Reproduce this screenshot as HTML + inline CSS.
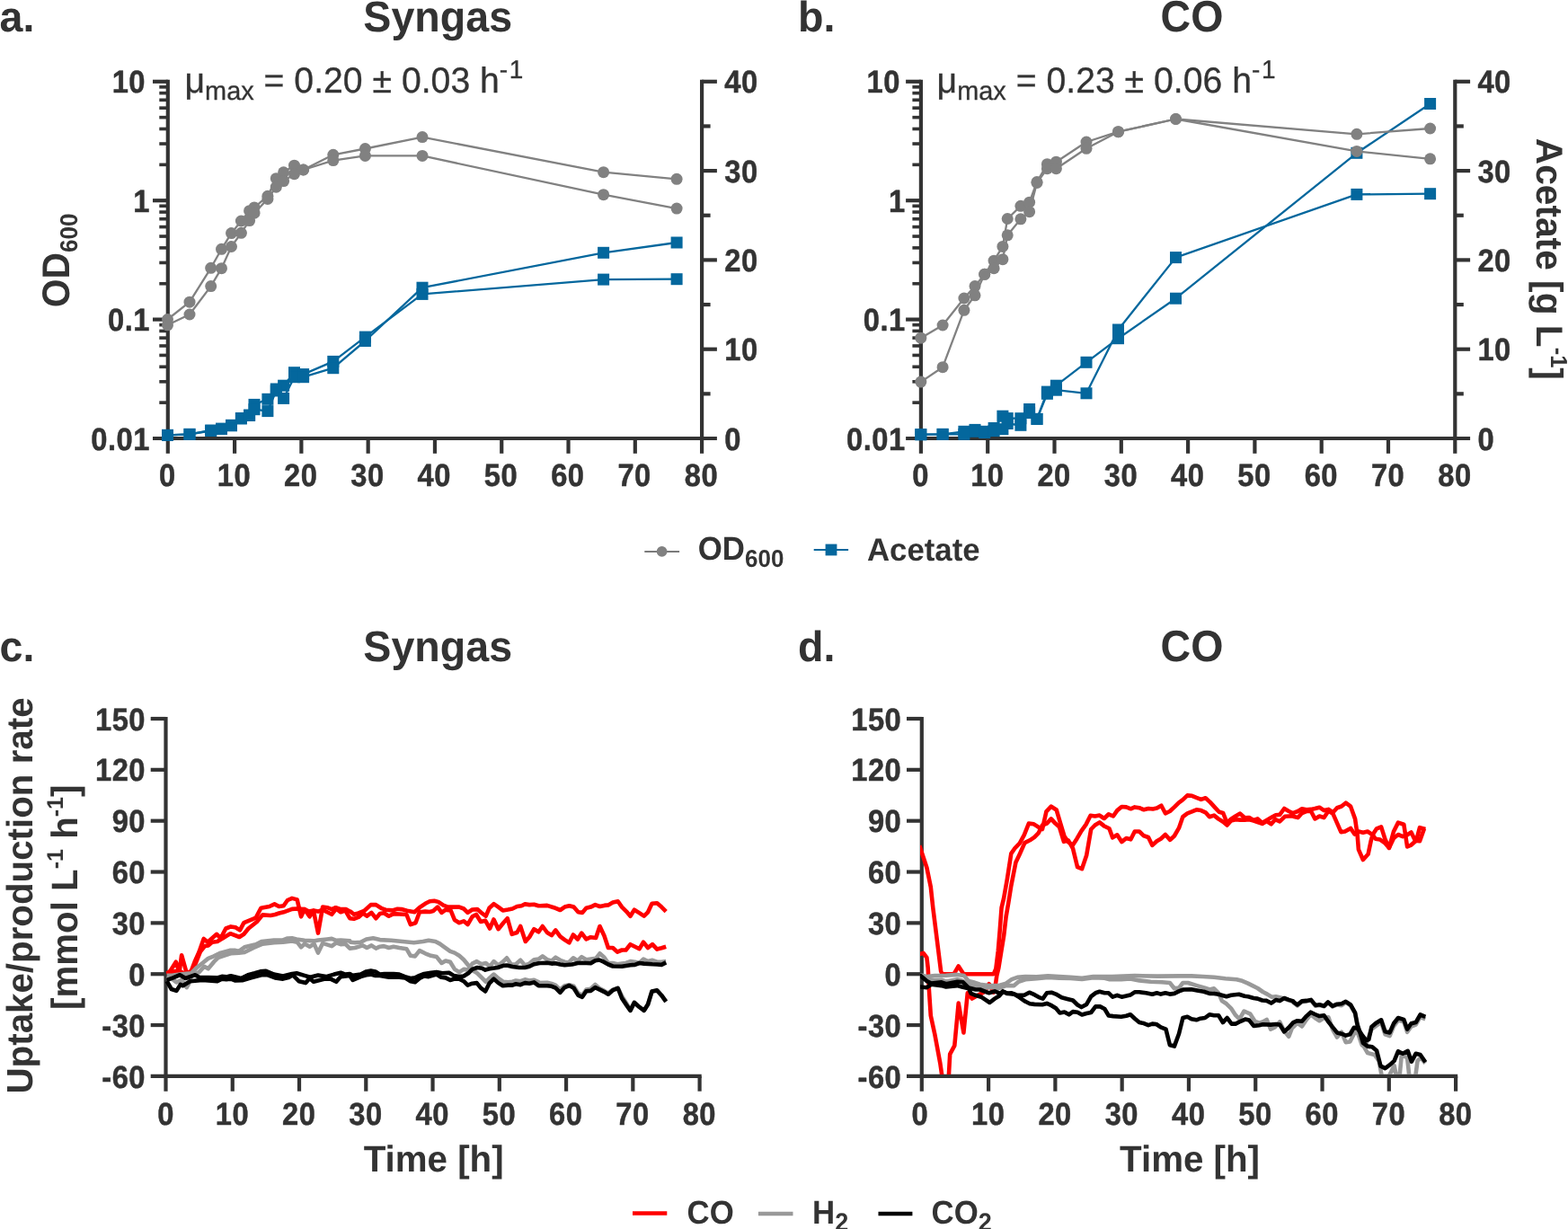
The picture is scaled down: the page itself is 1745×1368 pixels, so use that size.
<!DOCTYPE html>
<html lang="en">
<head>
<meta charset="utf-8">
<title>Syngas and CO fermentation</title>
<style>
html,body{margin:0;padding:0;background:#fff;}
body{width:1745px;height:1368px;overflow:hidden;font-family:"Liberation Sans", sans-serif;}
svg{display:block;position:absolute;left:0;top:0;}
text{white-space:pre;text-rendering:geometricPrecision;}
.tk{letter-spacing:0.5px;stroke:#333;stroke-width:0.45px;stroke-linejoin:round;}
.an{stroke:#333;stroke-width:0.3px;}
</style>
</head>
<body>
<svg width="1745" height="1368" viewBox="0 0 1745 1368" font-family='"Liberation Sans", sans-serif' font-weight="bold" fill="#333333">
<rect width="1745" height="1368" fill="#ffffff"/>
<g>
<line x1="186.8" y1="88.7" x2="186.8" y2="490.1" stroke="#333333" stroke-width="4.2"/>
<line x1="781.1" y1="88.7" x2="781.1" y2="490.1" stroke="#333333" stroke-width="4.2"/>
<line x1="170" y1="488" x2="797.9" y2="488" stroke="#333333" stroke-width="4.2"/>
<line x1="170" y1="90.8" x2="186.8" y2="90.8" stroke="#333333" stroke-width="4.2"/>
<text transform="translate(162 103.4) scale(1 1.075)" font-size="32.7" text-anchor="end" class="tk">10</text>
<line x1="177.3" y1="183.34" x2="186.8" y2="183.34" stroke="#333333" stroke-width="3.6"/>
<line x1="177.3" y1="160.03" x2="186.8" y2="160.03" stroke="#333333" stroke-width="3.6"/>
<line x1="177.3" y1="143.49" x2="186.8" y2="143.49" stroke="#333333" stroke-width="3.6"/>
<line x1="177.3" y1="130.66" x2="186.8" y2="130.66" stroke="#333333" stroke-width="3.6"/>
<line x1="177.3" y1="120.17" x2="186.8" y2="120.17" stroke="#333333" stroke-width="3.6"/>
<line x1="177.3" y1="111.31" x2="186.8" y2="111.31" stroke="#333333" stroke-width="3.6"/>
<line x1="177.3" y1="103.63" x2="186.8" y2="103.63" stroke="#333333" stroke-width="3.6"/>
<line x1="177.3" y1="96.86" x2="186.8" y2="96.86" stroke="#333333" stroke-width="3.6"/>
<line x1="170" y1="223.2" x2="186.8" y2="223.2" stroke="#333333" stroke-width="4.2"/>
<text transform="translate(166.9 235.8) scale(1 1.075)" font-size="32.7" text-anchor="end" class="tk">1</text>
<line x1="177.3" y1="315.74" x2="186.8" y2="315.74" stroke="#333333" stroke-width="3.6"/>
<line x1="177.3" y1="292.43" x2="186.8" y2="292.43" stroke="#333333" stroke-width="3.6"/>
<line x1="177.3" y1="275.89" x2="186.8" y2="275.89" stroke="#333333" stroke-width="3.6"/>
<line x1="177.3" y1="263.06" x2="186.8" y2="263.06" stroke="#333333" stroke-width="3.6"/>
<line x1="177.3" y1="252.57" x2="186.8" y2="252.57" stroke="#333333" stroke-width="3.6"/>
<line x1="177.3" y1="243.71" x2="186.8" y2="243.71" stroke="#333333" stroke-width="3.6"/>
<line x1="177.3" y1="236.03" x2="186.8" y2="236.03" stroke="#333333" stroke-width="3.6"/>
<line x1="177.3" y1="229.26" x2="186.8" y2="229.26" stroke="#333333" stroke-width="3.6"/>
<line x1="170" y1="355.6" x2="186.8" y2="355.6" stroke="#333333" stroke-width="4.2"/>
<text transform="translate(166.9 368.2) scale(1 1.075)" font-size="32.7" text-anchor="end" class="tk">0.1</text>
<line x1="177.3" y1="448.14" x2="186.8" y2="448.14" stroke="#333333" stroke-width="3.6"/>
<line x1="177.3" y1="424.83" x2="186.8" y2="424.83" stroke="#333333" stroke-width="3.6"/>
<line x1="177.3" y1="408.29" x2="186.8" y2="408.29" stroke="#333333" stroke-width="3.6"/>
<line x1="177.3" y1="395.46" x2="186.8" y2="395.46" stroke="#333333" stroke-width="3.6"/>
<line x1="177.3" y1="384.97" x2="186.8" y2="384.97" stroke="#333333" stroke-width="3.6"/>
<line x1="177.3" y1="376.11" x2="186.8" y2="376.11" stroke="#333333" stroke-width="3.6"/>
<line x1="177.3" y1="368.43" x2="186.8" y2="368.43" stroke="#333333" stroke-width="3.6"/>
<line x1="177.3" y1="361.66" x2="186.8" y2="361.66" stroke="#333333" stroke-width="3.6"/>
<text transform="translate(166.9 500.6) scale(1 1.075)" font-size="32.7" text-anchor="end" class="tk">0.01</text>
<text transform="translate(806.2 500.6) scale(1 1.075)" font-size="32.7" class="tk">0</text>
<line x1="781.1" y1="438.35" x2="790.6" y2="438.35" stroke="#333333" stroke-width="4.2"/>
<line x1="781.1" y1="388.7" x2="797.9" y2="388.7" stroke="#333333" stroke-width="4.2"/>
<text transform="translate(806.2 401.3) scale(1 1.075)" font-size="32.7" class="tk">10</text>
<line x1="781.1" y1="339.05" x2="790.6" y2="339.05" stroke="#333333" stroke-width="4.2"/>
<line x1="781.1" y1="289.4" x2="797.9" y2="289.4" stroke="#333333" stroke-width="4.2"/>
<text transform="translate(806.2 302) scale(1 1.075)" font-size="32.7" class="tk">20</text>
<line x1="781.1" y1="239.75" x2="790.6" y2="239.75" stroke="#333333" stroke-width="4.2"/>
<line x1="781.1" y1="190.1" x2="797.9" y2="190.1" stroke="#333333" stroke-width="4.2"/>
<text transform="translate(806.2 202.7) scale(1 1.075)" font-size="32.7" class="tk">30</text>
<line x1="781.1" y1="140.45" x2="790.6" y2="140.45" stroke="#333333" stroke-width="4.2"/>
<line x1="781.1" y1="90.8" x2="797.9" y2="90.8" stroke="#333333" stroke-width="4.2"/>
<text transform="translate(806.2 103.4) scale(1 1.075)" font-size="32.7" class="tk">40</text>
<line x1="186.8" y1="488" x2="186.8" y2="504.8" stroke="#333333" stroke-width="4.2"/>
<text transform="translate(186.3 541.2) scale(1 1.075)" font-size="32.7" text-anchor="middle" class="tk">0</text>
<line x1="261.09" y1="488" x2="261.09" y2="504.8" stroke="#333333" stroke-width="4.2"/>
<text transform="translate(260.39 541.2) scale(1 1.075)" font-size="32.7" text-anchor="middle" class="tk">10</text>
<line x1="335.38" y1="488" x2="335.38" y2="504.8" stroke="#333333" stroke-width="4.2"/>
<text transform="translate(334.68 541.2) scale(1 1.075)" font-size="32.7" text-anchor="middle" class="tk">20</text>
<line x1="409.66" y1="488" x2="409.66" y2="504.8" stroke="#333333" stroke-width="4.2"/>
<text transform="translate(408.96 541.2) scale(1 1.075)" font-size="32.7" text-anchor="middle" class="tk">30</text>
<line x1="483.95" y1="488" x2="483.95" y2="504.8" stroke="#333333" stroke-width="4.2"/>
<text transform="translate(483.25 541.2) scale(1 1.075)" font-size="32.7" text-anchor="middle" class="tk">40</text>
<line x1="558.24" y1="488" x2="558.24" y2="504.8" stroke="#333333" stroke-width="4.2"/>
<text transform="translate(557.54 541.2) scale(1 1.075)" font-size="32.7" text-anchor="middle" class="tk">50</text>
<line x1="632.53" y1="488" x2="632.53" y2="504.8" stroke="#333333" stroke-width="4.2"/>
<text transform="translate(631.83 541.2) scale(1 1.075)" font-size="32.7" text-anchor="middle" class="tk">60</text>
<line x1="706.81" y1="488" x2="706.81" y2="504.8" stroke="#333333" stroke-width="4.2"/>
<text transform="translate(706.11 541.2) scale(1 1.075)" font-size="32.7" text-anchor="middle" class="tk">70</text>
<line x1="781.1" y1="488" x2="781.1" y2="504.8" stroke="#333333" stroke-width="4.2"/>
<text transform="translate(780.4 541.2) scale(1 1.075)" font-size="32.7" text-anchor="middle" class="tk">80</text>
<text transform="translate(487.2 35.2) scale(1 1.03)" font-size="46.6" text-anchor="middle">Syngas</text>
<text transform="translate(-0.5 35.1) scale(1 1.02)" font-size="46.6">a.</text>
<text transform="translate(205.5 102.9) scale(1 1.02)" font-size="39.2" font-weight="normal" class="an">μ<tspan font-size="28.9" dy="7.6">max</tspan><tspan dy="-7.6"> = 0.20 ± 0.03 h</tspan><tspan font-size="28.0" dy="-15.8">-</tspan><tspan font-size="28" dx="1.6">1</tspan></text>
<polyline points="186.5,484.4 211,483.4 234.7,479 246.5,477.1 257.5,473.3 268.4,465.5 277.6,462 283,450.4 297.9,444.3 307.3,433 315.6,429.2 327.5,414.7 337.6,416.6 370.8,402.4 406.4,375.1 470,327.4 671.6,311.1 753.1,310.7" fill="none" stroke="#04679d" stroke-width="2.3" stroke-linejoin="round"/>
<polyline points="186.5,484.4 211,483.4 234.7,479.5 246.5,477.5 257.5,473.8 268.4,466 277.6,462.5 283,455.7 297.9,457.6 307.3,435 315.6,443.4 327.5,419.7 337.6,419.7 370.8,409.7 406.4,379.5 470,320.2 671.6,281.3 753.1,270" fill="none" stroke="#04679d" stroke-width="2.3" stroke-linejoin="round"/>
<rect x="180" y="477.9" width="13" height="13" fill="#04679d"/>
<rect x="204.5" y="476.9" width="13" height="13" fill="#04679d"/>
<rect x="228.2" y="472.5" width="13" height="13" fill="#04679d"/>
<rect x="240" y="470.6" width="13" height="13" fill="#04679d"/>
<rect x="251" y="466.8" width="13" height="13" fill="#04679d"/>
<rect x="261.9" y="459" width="13" height="13" fill="#04679d"/>
<rect x="271.1" y="455.5" width="13" height="13" fill="#04679d"/>
<rect x="276.5" y="443.9" width="13" height="13" fill="#04679d"/>
<rect x="291.4" y="437.8" width="13" height="13" fill="#04679d"/>
<rect x="300.8" y="426.5" width="13" height="13" fill="#04679d"/>
<rect x="309.1" y="422.7" width="13" height="13" fill="#04679d"/>
<rect x="321" y="408.2" width="13" height="13" fill="#04679d"/>
<rect x="331.1" y="410.1" width="13" height="13" fill="#04679d"/>
<rect x="364.3" y="395.9" width="13" height="13" fill="#04679d"/>
<rect x="399.9" y="368.6" width="13" height="13" fill="#04679d"/>
<rect x="463.5" y="320.9" width="13" height="13" fill="#04679d"/>
<rect x="665.1" y="304.6" width="13" height="13" fill="#04679d"/>
<rect x="746.6" y="304.2" width="13" height="13" fill="#04679d"/>
<rect x="180" y="477.9" width="13" height="13" fill="#04679d"/>
<rect x="204.5" y="476.9" width="13" height="13" fill="#04679d"/>
<rect x="228.2" y="473" width="13" height="13" fill="#04679d"/>
<rect x="240" y="471" width="13" height="13" fill="#04679d"/>
<rect x="251" y="467.3" width="13" height="13" fill="#04679d"/>
<rect x="261.9" y="459.5" width="13" height="13" fill="#04679d"/>
<rect x="271.1" y="456" width="13" height="13" fill="#04679d"/>
<rect x="276.5" y="449.2" width="13" height="13" fill="#04679d"/>
<rect x="291.4" y="451.1" width="13" height="13" fill="#04679d"/>
<rect x="300.8" y="428.5" width="13" height="13" fill="#04679d"/>
<rect x="309.1" y="436.9" width="13" height="13" fill="#04679d"/>
<rect x="321" y="413.2" width="13" height="13" fill="#04679d"/>
<rect x="331.1" y="413.2" width="13" height="13" fill="#04679d"/>
<rect x="364.3" y="403.2" width="13" height="13" fill="#04679d"/>
<rect x="399.9" y="373" width="13" height="13" fill="#04679d"/>
<rect x="463.5" y="313.7" width="13" height="13" fill="#04679d"/>
<rect x="665.1" y="274.8" width="13" height="13" fill="#04679d"/>
<rect x="746.6" y="263.5" width="13" height="13" fill="#04679d"/>
<polyline points="186.5,355.5 211,336.2 234.7,298.3 246.5,277.3 257.5,259.6 268.4,246 277.6,234.7 283,230.9 297.9,218.3 307.3,198.7 315.6,191.8 327.5,184.2 337.6,189 370.8,172.3 406.4,165.5 470,152.6 671.6,191.7 753.1,199.3" fill="none" stroke="#818181" stroke-width="2.3" stroke-linejoin="round"/>
<polyline points="186.5,361.8 211,350 234.7,318.6 246.5,298.7 257.5,274.5 268.4,259.3 277.6,245.6 283,237.2 297.9,221.4 307.3,208.2 315.6,201.6 327.5,193.7 337.6,189 370.8,178.6 406.4,173.4 470,173.4 671.6,216.7 753.1,232.1" fill="none" stroke="#818181" stroke-width="2.3" stroke-linejoin="round"/>
<circle cx="186.5" cy="355.5" r="6.5" fill="#818181"/>
<circle cx="211" cy="336.2" r="6.5" fill="#818181"/>
<circle cx="234.7" cy="298.3" r="6.5" fill="#818181"/>
<circle cx="246.5" cy="277.3" r="6.5" fill="#818181"/>
<circle cx="257.5" cy="259.6" r="6.5" fill="#818181"/>
<circle cx="268.4" cy="246" r="6.5" fill="#818181"/>
<circle cx="277.6" cy="234.7" r="6.5" fill="#818181"/>
<circle cx="283" cy="230.9" r="6.5" fill="#818181"/>
<circle cx="297.9" cy="218.3" r="6.5" fill="#818181"/>
<circle cx="307.3" cy="198.7" r="6.5" fill="#818181"/>
<circle cx="315.6" cy="191.8" r="6.5" fill="#818181"/>
<circle cx="327.5" cy="184.2" r="6.5" fill="#818181"/>
<circle cx="337.6" cy="189" r="6.5" fill="#818181"/>
<circle cx="370.8" cy="172.3" r="6.5" fill="#818181"/>
<circle cx="406.4" cy="165.5" r="6.5" fill="#818181"/>
<circle cx="470" cy="152.6" r="6.5" fill="#818181"/>
<circle cx="671.6" cy="191.7" r="6.5" fill="#818181"/>
<circle cx="753.1" cy="199.3" r="6.5" fill="#818181"/>
<circle cx="186.5" cy="361.8" r="6.5" fill="#818181"/>
<circle cx="211" cy="350" r="6.5" fill="#818181"/>
<circle cx="234.7" cy="318.6" r="6.5" fill="#818181"/>
<circle cx="246.5" cy="298.7" r="6.5" fill="#818181"/>
<circle cx="257.5" cy="274.5" r="6.5" fill="#818181"/>
<circle cx="268.4" cy="259.3" r="6.5" fill="#818181"/>
<circle cx="277.6" cy="245.6" r="6.5" fill="#818181"/>
<circle cx="283" cy="237.2" r="6.5" fill="#818181"/>
<circle cx="297.9" cy="221.4" r="6.5" fill="#818181"/>
<circle cx="307.3" cy="208.2" r="6.5" fill="#818181"/>
<circle cx="315.6" cy="201.6" r="6.5" fill="#818181"/>
<circle cx="327.5" cy="193.7" r="6.5" fill="#818181"/>
<circle cx="337.6" cy="189" r="6.5" fill="#818181"/>
<circle cx="370.8" cy="178.6" r="6.5" fill="#818181"/>
<circle cx="406.4" cy="173.4" r="6.5" fill="#818181"/>
<circle cx="470" cy="173.4" r="6.5" fill="#818181"/>
<circle cx="671.6" cy="216.7" r="6.5" fill="#818181"/>
<circle cx="753.1" cy="232.1" r="6.5" fill="#818181"/>
</g>
<g>
<line x1="1024.9" y1="88.7" x2="1024.9" y2="490.1" stroke="#333333" stroke-width="4.2"/>
<line x1="1619.3" y1="88.7" x2="1619.3" y2="490.1" stroke="#333333" stroke-width="4.2"/>
<line x1="1008.1" y1="488" x2="1636.1" y2="488" stroke="#333333" stroke-width="4.2"/>
<line x1="1008.1" y1="90.8" x2="1024.9" y2="90.8" stroke="#333333" stroke-width="4.2"/>
<text transform="translate(1001.9 103.4) scale(1 1.075)" font-size="32.7" text-anchor="end" class="tk">10</text>
<line x1="1015.4" y1="183.34" x2="1024.9" y2="183.34" stroke="#333333" stroke-width="3.6"/>
<line x1="1015.4" y1="160.03" x2="1024.9" y2="160.03" stroke="#333333" stroke-width="3.6"/>
<line x1="1015.4" y1="143.49" x2="1024.9" y2="143.49" stroke="#333333" stroke-width="3.6"/>
<line x1="1015.4" y1="130.66" x2="1024.9" y2="130.66" stroke="#333333" stroke-width="3.6"/>
<line x1="1015.4" y1="120.17" x2="1024.9" y2="120.17" stroke="#333333" stroke-width="3.6"/>
<line x1="1015.4" y1="111.31" x2="1024.9" y2="111.31" stroke="#333333" stroke-width="3.6"/>
<line x1="1015.4" y1="103.63" x2="1024.9" y2="103.63" stroke="#333333" stroke-width="3.6"/>
<line x1="1015.4" y1="96.86" x2="1024.9" y2="96.86" stroke="#333333" stroke-width="3.6"/>
<line x1="1008.1" y1="223.2" x2="1024.9" y2="223.2" stroke="#333333" stroke-width="4.2"/>
<text transform="translate(1007.7 235.8) scale(1 1.075)" font-size="32.7" text-anchor="end" class="tk">1</text>
<line x1="1015.4" y1="315.74" x2="1024.9" y2="315.74" stroke="#333333" stroke-width="3.6"/>
<line x1="1015.4" y1="292.43" x2="1024.9" y2="292.43" stroke="#333333" stroke-width="3.6"/>
<line x1="1015.4" y1="275.89" x2="1024.9" y2="275.89" stroke="#333333" stroke-width="3.6"/>
<line x1="1015.4" y1="263.06" x2="1024.9" y2="263.06" stroke="#333333" stroke-width="3.6"/>
<line x1="1015.4" y1="252.57" x2="1024.9" y2="252.57" stroke="#333333" stroke-width="3.6"/>
<line x1="1015.4" y1="243.71" x2="1024.9" y2="243.71" stroke="#333333" stroke-width="3.6"/>
<line x1="1015.4" y1="236.03" x2="1024.9" y2="236.03" stroke="#333333" stroke-width="3.6"/>
<line x1="1015.4" y1="229.26" x2="1024.9" y2="229.26" stroke="#333333" stroke-width="3.6"/>
<line x1="1008.1" y1="355.6" x2="1024.9" y2="355.6" stroke="#333333" stroke-width="4.2"/>
<text transform="translate(1007.7 368.2) scale(1 1.075)" font-size="32.7" text-anchor="end" class="tk">0.1</text>
<line x1="1015.4" y1="448.14" x2="1024.9" y2="448.14" stroke="#333333" stroke-width="3.6"/>
<line x1="1015.4" y1="424.83" x2="1024.9" y2="424.83" stroke="#333333" stroke-width="3.6"/>
<line x1="1015.4" y1="408.29" x2="1024.9" y2="408.29" stroke="#333333" stroke-width="3.6"/>
<line x1="1015.4" y1="395.46" x2="1024.9" y2="395.46" stroke="#333333" stroke-width="3.6"/>
<line x1="1015.4" y1="384.97" x2="1024.9" y2="384.97" stroke="#333333" stroke-width="3.6"/>
<line x1="1015.4" y1="376.11" x2="1024.9" y2="376.11" stroke="#333333" stroke-width="3.6"/>
<line x1="1015.4" y1="368.43" x2="1024.9" y2="368.43" stroke="#333333" stroke-width="3.6"/>
<line x1="1015.4" y1="361.66" x2="1024.9" y2="361.66" stroke="#333333" stroke-width="3.6"/>
<text transform="translate(1007.7 500.6) scale(1 1.075)" font-size="32.7" text-anchor="end" class="tk">0.01</text>
<text transform="translate(1644.4 500.6) scale(1 1.075)" font-size="32.7" class="tk">0</text>
<line x1="1619.3" y1="438.35" x2="1628.8" y2="438.35" stroke="#333333" stroke-width="4.2"/>
<line x1="1619.3" y1="388.7" x2="1636.1" y2="388.7" stroke="#333333" stroke-width="4.2"/>
<text transform="translate(1644.4 401.3) scale(1 1.075)" font-size="32.7" class="tk">10</text>
<line x1="1619.3" y1="339.05" x2="1628.8" y2="339.05" stroke="#333333" stroke-width="4.2"/>
<line x1="1619.3" y1="289.4" x2="1636.1" y2="289.4" stroke="#333333" stroke-width="4.2"/>
<text transform="translate(1644.4 302) scale(1 1.075)" font-size="32.7" class="tk">20</text>
<line x1="1619.3" y1="239.75" x2="1628.8" y2="239.75" stroke="#333333" stroke-width="4.2"/>
<line x1="1619.3" y1="190.1" x2="1636.1" y2="190.1" stroke="#333333" stroke-width="4.2"/>
<text transform="translate(1644.4 202.7) scale(1 1.075)" font-size="32.7" class="tk">30</text>
<line x1="1619.3" y1="140.45" x2="1628.8" y2="140.45" stroke="#333333" stroke-width="4.2"/>
<line x1="1619.3" y1="90.8" x2="1636.1" y2="90.8" stroke="#333333" stroke-width="4.2"/>
<text transform="translate(1644.4 103.4) scale(1 1.075)" font-size="32.7" class="tk">40</text>
<line x1="1024.9" y1="488" x2="1024.9" y2="504.8" stroke="#333333" stroke-width="4.2"/>
<text transform="translate(1024.7 541.2) scale(1 1.075)" font-size="32.7" text-anchor="middle" class="tk">0</text>
<line x1="1099.2" y1="488" x2="1099.2" y2="504.8" stroke="#333333" stroke-width="4.2"/>
<text transform="translate(1098.8 541.2) scale(1 1.075)" font-size="32.7" text-anchor="middle" class="tk">10</text>
<line x1="1173.5" y1="488" x2="1173.5" y2="504.8" stroke="#333333" stroke-width="4.2"/>
<text transform="translate(1173.1 541.2) scale(1 1.075)" font-size="32.7" text-anchor="middle" class="tk">20</text>
<line x1="1247.8" y1="488" x2="1247.8" y2="504.8" stroke="#333333" stroke-width="4.2"/>
<text transform="translate(1247.4 541.2) scale(1 1.075)" font-size="32.7" text-anchor="middle" class="tk">30</text>
<line x1="1322.1" y1="488" x2="1322.1" y2="504.8" stroke="#333333" stroke-width="4.2"/>
<text transform="translate(1321.7 541.2) scale(1 1.075)" font-size="32.7" text-anchor="middle" class="tk">40</text>
<line x1="1396.4" y1="488" x2="1396.4" y2="504.8" stroke="#333333" stroke-width="4.2"/>
<text transform="translate(1396 541.2) scale(1 1.075)" font-size="32.7" text-anchor="middle" class="tk">50</text>
<line x1="1470.7" y1="488" x2="1470.7" y2="504.8" stroke="#333333" stroke-width="4.2"/>
<text transform="translate(1470.3 541.2) scale(1 1.075)" font-size="32.7" text-anchor="middle" class="tk">60</text>
<line x1="1545" y1="488" x2="1545" y2="504.8" stroke="#333333" stroke-width="4.2"/>
<text transform="translate(1544.6 541.2) scale(1 1.075)" font-size="32.7" text-anchor="middle" class="tk">70</text>
<line x1="1619.3" y1="488" x2="1619.3" y2="504.8" stroke="#333333" stroke-width="4.2"/>
<text transform="translate(1618.9 541.2) scale(1 1.075)" font-size="32.7" text-anchor="middle" class="tk">80</text>
<text transform="translate(1326.5 35.2) scale(1 1.05)" font-size="46.6" text-anchor="middle">CO</text>
<text transform="translate(888 35.1) scale(1 1.02)" font-size="46.6">b.</text>
<text transform="translate(1042.6 102.9) scale(1 1.02)" font-size="39.2" font-weight="normal" class="an">μ<tspan font-size="28.9" dy="7.6">max</tspan><tspan dy="-7.6"> = 0.23 ± 0.06 h</tspan><tspan font-size="28.0" dy="-15.8">-</tspan><tspan font-size="28" dx="1.6">1</tspan></text>
<polyline points="1024.8,483.7 1049.1,483.4 1072.9,480.3 1085,478.4 1095.7,480.3 1106.1,476.5 1115.9,463.2 1121.2,465.6 1135.9,465.7 1145.6,455.5 1154,466.4 1165.4,436.1 1175.4,429.2 1209,403.3 1244.5,376.7 1308.5,332.2 1509.9,170.3 1591.6,115.5" fill="none" stroke="#04679d" stroke-width="2.3" stroke-linejoin="round"/>
<polyline points="1024.8,483.7 1049.1,483.4 1072.9,483.4 1085,480.3 1095.7,481.5 1106.1,479.6 1115.9,477.7 1121.2,471.5 1135.9,473.3 1145.6,459.6 1154,466.4 1165.4,438.3 1175.4,434.2 1209,437.8 1244.5,367 1308.5,286.6 1509.9,216.4 1591.6,215.7" fill="none" stroke="#04679d" stroke-width="2.3" stroke-linejoin="round"/>
<rect x="1018.3" y="477.2" width="13" height="13" fill="#04679d"/>
<rect x="1042.6" y="476.9" width="13" height="13" fill="#04679d"/>
<rect x="1066.4" y="473.8" width="13" height="13" fill="#04679d"/>
<rect x="1078.5" y="471.9" width="13" height="13" fill="#04679d"/>
<rect x="1089.2" y="473.8" width="13" height="13" fill="#04679d"/>
<rect x="1099.6" y="470" width="13" height="13" fill="#04679d"/>
<rect x="1109.4" y="456.7" width="13" height="13" fill="#04679d"/>
<rect x="1114.7" y="459.1" width="13" height="13" fill="#04679d"/>
<rect x="1129.4" y="459.2" width="13" height="13" fill="#04679d"/>
<rect x="1139.1" y="449" width="13" height="13" fill="#04679d"/>
<rect x="1147.5" y="459.9" width="13" height="13" fill="#04679d"/>
<rect x="1158.9" y="429.6" width="13" height="13" fill="#04679d"/>
<rect x="1168.9" y="422.7" width="13" height="13" fill="#04679d"/>
<rect x="1202.5" y="396.8" width="13" height="13" fill="#04679d"/>
<rect x="1238" y="370.2" width="13" height="13" fill="#04679d"/>
<rect x="1302" y="325.7" width="13" height="13" fill="#04679d"/>
<rect x="1503.4" y="163.8" width="13" height="13" fill="#04679d"/>
<rect x="1585.1" y="109" width="13" height="13" fill="#04679d"/>
<rect x="1018.3" y="477.2" width="13" height="13" fill="#04679d"/>
<rect x="1042.6" y="476.9" width="13" height="13" fill="#04679d"/>
<rect x="1066.4" y="476.9" width="13" height="13" fill="#04679d"/>
<rect x="1078.5" y="473.8" width="13" height="13" fill="#04679d"/>
<rect x="1089.2" y="475" width="13" height="13" fill="#04679d"/>
<rect x="1099.6" y="473.1" width="13" height="13" fill="#04679d"/>
<rect x="1109.4" y="471.2" width="13" height="13" fill="#04679d"/>
<rect x="1114.7" y="465" width="13" height="13" fill="#04679d"/>
<rect x="1129.4" y="466.8" width="13" height="13" fill="#04679d"/>
<rect x="1139.1" y="453.1" width="13" height="13" fill="#04679d"/>
<rect x="1147.5" y="459.9" width="13" height="13" fill="#04679d"/>
<rect x="1158.9" y="431.8" width="13" height="13" fill="#04679d"/>
<rect x="1168.9" y="427.7" width="13" height="13" fill="#04679d"/>
<rect x="1202.5" y="431.3" width="13" height="13" fill="#04679d"/>
<rect x="1238" y="360.5" width="13" height="13" fill="#04679d"/>
<rect x="1302" y="280.1" width="13" height="13" fill="#04679d"/>
<rect x="1503.4" y="209.9" width="13" height="13" fill="#04679d"/>
<rect x="1585.1" y="209.2" width="13" height="13" fill="#04679d"/>
<polyline points="1024.8,376.2 1049.1,362 1072.9,332 1085,318.6 1095.7,305.3 1106.1,290.2 1115.9,274.4 1121.2,243.5 1135.9,229.3 1145.6,225.2 1154,202.5 1165.4,182.7 1175.4,180.2 1209,158 1244.5,146.7 1308.5,132.5 1509.9,149.3 1591.6,143" fill="none" stroke="#818181" stroke-width="2.3" stroke-linejoin="round"/>
<polyline points="1024.8,425.1 1049.1,408.7 1072.9,345.3 1085,328.8 1095.7,305.3 1106.1,298.7 1115.9,288.7 1121.2,261.8 1135.9,243.8 1145.6,235.7 1154,203.5 1165.4,187.7 1175.4,187.7 1209,165.3 1244.5,146.7 1308.5,132.5 1509.9,168.4 1591.6,176.8" fill="none" stroke="#818181" stroke-width="2.3" stroke-linejoin="round"/>
<circle cx="1024.8" cy="376.2" r="6.5" fill="#818181"/>
<circle cx="1049.1" cy="362" r="6.5" fill="#818181"/>
<circle cx="1072.9" cy="332" r="6.5" fill="#818181"/>
<circle cx="1085" cy="318.6" r="6.5" fill="#818181"/>
<circle cx="1095.7" cy="305.3" r="6.5" fill="#818181"/>
<circle cx="1106.1" cy="290.2" r="6.5" fill="#818181"/>
<circle cx="1115.9" cy="274.4" r="6.5" fill="#818181"/>
<circle cx="1121.2" cy="243.5" r="6.5" fill="#818181"/>
<circle cx="1135.9" cy="229.3" r="6.5" fill="#818181"/>
<circle cx="1145.6" cy="225.2" r="6.5" fill="#818181"/>
<circle cx="1154" cy="202.5" r="6.5" fill="#818181"/>
<circle cx="1165.4" cy="182.7" r="6.5" fill="#818181"/>
<circle cx="1175.4" cy="180.2" r="6.5" fill="#818181"/>
<circle cx="1209" cy="158" r="6.5" fill="#818181"/>
<circle cx="1244.5" cy="146.7" r="6.5" fill="#818181"/>
<circle cx="1308.5" cy="132.5" r="6.5" fill="#818181"/>
<circle cx="1509.9" cy="149.3" r="6.5" fill="#818181"/>
<circle cx="1591.6" cy="143" r="6.5" fill="#818181"/>
<circle cx="1024.8" cy="425.1" r="6.5" fill="#818181"/>
<circle cx="1049.1" cy="408.7" r="6.5" fill="#818181"/>
<circle cx="1072.9" cy="345.3" r="6.5" fill="#818181"/>
<circle cx="1085" cy="328.8" r="6.5" fill="#818181"/>
<circle cx="1095.7" cy="305.3" r="6.5" fill="#818181"/>
<circle cx="1106.1" cy="298.7" r="6.5" fill="#818181"/>
<circle cx="1115.9" cy="288.7" r="6.5" fill="#818181"/>
<circle cx="1121.2" cy="261.8" r="6.5" fill="#818181"/>
<circle cx="1135.9" cy="243.8" r="6.5" fill="#818181"/>
<circle cx="1145.6" cy="235.7" r="6.5" fill="#818181"/>
<circle cx="1154" cy="203.5" r="6.5" fill="#818181"/>
<circle cx="1165.4" cy="187.7" r="6.5" fill="#818181"/>
<circle cx="1175.4" cy="187.7" r="6.5" fill="#818181"/>
<circle cx="1209" cy="165.3" r="6.5" fill="#818181"/>
<circle cx="1244.5" cy="146.7" r="6.5" fill="#818181"/>
<circle cx="1308.5" cy="132.5" r="6.5" fill="#818181"/>
<circle cx="1509.9" cy="168.4" r="6.5" fill="#818181"/>
<circle cx="1591.6" cy="176.8" r="6.5" fill="#818181"/>
</g>
<text transform="translate(77.4 342.3) rotate(-90) scale(1 1.05)" font-size="40.9">OD<tspan font-size="26" dy="8.5">600</tspan></text>
<text transform="translate(1709.7 153.8) rotate(90) scale(1 1.02)" font-size="40.7">Acetate [g L<tspan font-size="25.5" dy="-16">-1</tspan><tspan dy="16">]</tspan></text>
<line x1="717.3" y1="614" x2="756.1" y2="614" stroke="#7a7a7a" stroke-width="2.1"/>
<circle cx="736.6" cy="613.9" r="5.9" fill="#818181"/>
<text transform="translate(776.8 622.8) scale(1 1.05)" font-size="34.8">OD<tspan font-size="26" dy="7.8">600</tspan></text>
<line x1="905.7" y1="612" x2="944.1" y2="612" stroke="#04679d" stroke-width="2.1"/>
<rect x="918.6" y="605.6" width="12.8" height="12.8" fill="#04679d"/>
<text transform="translate(964.9 624) scale(1 1.02)" font-size="34.8">Acetate</text>
<g>
<line x1="184.5" y1="797.9" x2="184.5" y2="1214.7" stroke="#333333" stroke-width="4.2"/>
<line x1="167.7" y1="1197.9" x2="780.7" y2="1197.9" stroke="#333333" stroke-width="4.2"/>
<line x1="167.7" y1="800" x2="184.5" y2="800" stroke="#333333" stroke-width="4.2"/>
<text transform="translate(162 812.6) scale(1 1.075)" font-size="32.7" text-anchor="end" class="tk">150</text>
<line x1="167.7" y1="856.84" x2="184.5" y2="856.84" stroke="#333333" stroke-width="4.2"/>
<text transform="translate(162 869.44) scale(1 1.075)" font-size="32.7" text-anchor="end" class="tk">120</text>
<line x1="167.7" y1="913.69" x2="184.5" y2="913.69" stroke="#333333" stroke-width="4.2"/>
<text transform="translate(162 926.29) scale(1 1.075)" font-size="32.7" text-anchor="end" class="tk">90</text>
<line x1="167.7" y1="970.53" x2="184.5" y2="970.53" stroke="#333333" stroke-width="4.2"/>
<text transform="translate(162 983.13) scale(1 1.075)" font-size="32.7" text-anchor="end" class="tk">60</text>
<line x1="167.7" y1="1027.37" x2="184.5" y2="1027.37" stroke="#333333" stroke-width="4.2"/>
<text transform="translate(162 1039.97) scale(1 1.075)" font-size="32.7" text-anchor="end" class="tk">30</text>
<line x1="167.7" y1="1084.21" x2="184.5" y2="1084.21" stroke="#333333" stroke-width="4.2"/>
<text transform="translate(162 1096.81) scale(1 1.075)" font-size="32.7" text-anchor="end" class="tk">0</text>
<line x1="167.7" y1="1141.06" x2="184.5" y2="1141.06" stroke="#333333" stroke-width="4.2"/>
<text transform="translate(162 1153.66) scale(1 1.075)" font-size="32.7" text-anchor="end" class="tk">-30</text>
<text transform="translate(162 1210.5) scale(1 1.075)" font-size="32.7" text-anchor="end" class="tk">-60</text>
<text transform="translate(184.5 1252.2) scale(1 1.075)" font-size="32.7" text-anchor="middle" class="tk">0</text>
<line x1="258.76" y1="1197.9" x2="258.76" y2="1214.7" stroke="#333333" stroke-width="4.2"/>
<text transform="translate(258.46 1252.2) scale(1 1.075)" font-size="32.7" text-anchor="middle" class="tk">10</text>
<line x1="333.02" y1="1197.9" x2="333.02" y2="1214.7" stroke="#333333" stroke-width="4.2"/>
<text transform="translate(332.72 1252.2) scale(1 1.075)" font-size="32.7" text-anchor="middle" class="tk">20</text>
<line x1="407.29" y1="1197.9" x2="407.29" y2="1214.7" stroke="#333333" stroke-width="4.2"/>
<text transform="translate(406.99 1252.2) scale(1 1.075)" font-size="32.7" text-anchor="middle" class="tk">30</text>
<line x1="481.55" y1="1197.9" x2="481.55" y2="1214.7" stroke="#333333" stroke-width="4.2"/>
<text transform="translate(481.25 1252.2) scale(1 1.075)" font-size="32.7" text-anchor="middle" class="tk">40</text>
<line x1="555.81" y1="1197.9" x2="555.81" y2="1214.7" stroke="#333333" stroke-width="4.2"/>
<text transform="translate(555.51 1252.2) scale(1 1.075)" font-size="32.7" text-anchor="middle" class="tk">50</text>
<line x1="630.08" y1="1197.9" x2="630.08" y2="1214.7" stroke="#333333" stroke-width="4.2"/>
<text transform="translate(629.78 1252.2) scale(1 1.075)" font-size="32.7" text-anchor="middle" class="tk">60</text>
<line x1="704.34" y1="1197.9" x2="704.34" y2="1214.7" stroke="#333333" stroke-width="4.2"/>
<text transform="translate(704.04 1252.2) scale(1 1.075)" font-size="32.7" text-anchor="middle" class="tk">70</text>
<line x1="778.6" y1="1197.9" x2="778.6" y2="1214.7" stroke="#333333" stroke-width="4.2"/>
<text transform="translate(778.3 1252.2) scale(1 1.075)" font-size="32.7" text-anchor="middle" class="tk">80</text>
<text transform="translate(487.2 736.1) scale(1 1.03)" font-size="46.6" text-anchor="middle">Syngas</text>
<text transform="translate(-0.5 736.3) scale(1 1.02)" font-size="46.6">c.</text>
<text transform="translate(482.65 1304.3) scale(1 1.02)" font-size="40.3" text-anchor="middle">Time [h]</text>
</g>
<clipPath id="clipc"><rect x="182.7" y="780" width="604.1" height="415.9"/></clipPath>
<g clip-path="url(#clipc)" fill="none" stroke-width="4.6" stroke-linejoin="round">
<path d="M185.7 1083.3L189.5 1080.8L195.8 1070.7L199.6 1082.1L202.1 1063.2L207.8 1083.3L212.8 1080.8L216.6 1070.7L221.6 1059.4L226.7 1044.9L231.1 1048.7L241.2 1039.8L245.6 1044.3L251.3 1033.5L256.9 1031.4L262 1032.3L267 1035.4L271.4 1027.2L284.7 1021.6L290.4 1010.8L299.8 1009L305.5 1006.4L310.5 1009L315.6 1008.3L320 1002L325 999.9L330.7 1001.4L335.1 1020.3L338.9 1012.1L344.6 1020.3L349 1014L354 1038.6L359.1 1009.6L364.1 1010.2L369.2 1012.1L373.6 1010.2L379.2 1012.1L384.9 1012.1L389.3 1014.6L390 1014.6L393.8 1017.8L398.9 1016.5L405.2 1014L412.7 1007.1L418.4 1007.1L424.1 1010.8L429.1 1012.7L436.7 1013.4L442.4 1011.7L446.8 1012.1L453.1 1013.7L461.3 1015.3L466.9 1010.2L473.3 1005.8L478.3 1003.3L483.3 1002.7L487.8 1003.9L493.4 1007.7L498.5 1009.6L504.8 1009.6L511.1 1009.6L516.1 1011.5L520.5 1015.9L525.6 1012.5L531.2 1012.1L536.3 1016.5L540.7 1019.7L544.5 1010.8L549.5 1006.2L554.6 1009.6L559.6 1013.4L565.3 1012.5L570.3 1011.5L575.4 1009L580.4 1008.3L584.2 1006.4L589.2 1007.1L594.3 1006.7L599.3 1008.3L601.3 1008.3L608.9 1007.9L616.4 1010.2L623.4 1013L628.4 1009.6L633.5 1008.3L638.5 1009.6L643.5 1015.3L648 1015.9L652.4 1010.8L657.4 1009.6L662.4 1007.1L667.5 1009L672.5 1007.9L676.9 1007.4L682 1004.5L687.7 1003.3L692.1 1009.6L697.1 1014.6L701.5 1019.7L705.9 1012.7L711 1015.9L716.7 1019.7L721.1 1015.3L725.5 1005.8L731.2 1005.2L736.2 1009.6L741.2 1014.6" stroke="#ff0000"/>
<path d="M185.7 1084.6L191.4 1082.1L196.4 1080.8L202.1 1082.1L207.8 1084.6L212.8 1082.1L217.9 1072L222.9 1059.4L228 1053.1L231.7 1052.4L236.1 1048.7L241.8 1048L248.1 1044.3L256.3 1039.2L266.4 1043L271.4 1039.8L276.5 1033.5L285.9 1026L292.2 1018.4L301.1 1019L306.1 1018L310.5 1016.5L315.6 1015.3L325 1011.9L330.7 1011.5L338.9 1012.1L343.9 1014.6L349 1013.4L354 1014.6L359.1 1012.7L369.2 1017.8L374.2 1011.5L379.2 1015.3L384.3 1013.4L389.3 1022.2L393.8 1022.8L398.9 1020.9L403.9 1016.5L408.3 1019.7L413.4 1015.9L418.4 1022.2L422.8 1017.1L427.2 1016.3L432.7 1019.7L438 1017.1L444.3 1017.5L452.4 1018L456.9 1029.1L462.5 1027.2L466.9 1015.3L473.3 1014.6L478.3 1015L482.1 1014L487.1 1009.6L491.5 1015.9L495.9 1012.7L501.6 1013.4L506 1024.1L511.1 1027.2L516.1 1025.3L520.5 1029.1L525.6 1020.3L530 1018L535 1026L540.1 1024.7L545.1 1033.5L549.5 1023.5L554.6 1034.2L560.2 1027.2L564.7 1022.2L569.7 1039.8L575.4 1038L579.2 1031L584.8 1048L589.2 1043L594.3 1034.2L599.3 1037.3L603.8 1031L608.9 1038L613.9 1041.1L618.3 1035.4L623.4 1042.4L628.4 1046.1L633.5 1049.3L637.9 1040.5L642.9 1045.5L647.3 1038.6L652.4 1045.3L657.4 1043.2L663.1 1044L667.5 1031L672.5 1041.7L676.9 1055L682 1055L687 1059.6L692.1 1057.5L696.5 1057.5L701.5 1051.2L706.6 1053.7L711.6 1056.2L716 1048.7L721.1 1055L726.1 1051.2L731.2 1056.6L736.2 1055.3L741.2 1053.7" stroke="#ff0000"/>
<path d="M185.7 1085.9L191.4 1085.9L200.2 1084.6L212.8 1083.3L219.1 1077L225.4 1072L231.7 1066.9L238 1064.4L245.6 1060.6L255.7 1057.9L262 1057.9L265.8 1058.8L272.1 1054.3L284.7 1051.2L291 1048L304.9 1046.5L314.9 1046.5L320 1044.5L325 1044.3L330.1 1045.5L338.9 1046.8L349 1047.4L354 1046.5L364.1 1045.5L369.2 1044.9L374.2 1046.8L379.2 1046.5L389.3 1047.4L390 1048.7L395.1 1049.3L401.4 1048.7L407.7 1045.5L415.3 1044.3L422.8 1046.1L435.4 1046.8L448 1048L460.6 1049.3L470.7 1048L477 1046.8L484.6 1048L489.6 1050.6L494.7 1054.3L501 1058.8L506 1060.6L511.1 1063.8L516.1 1068.2L521.2 1074.5L526.2 1080.2L531.2 1083.3L536.3 1088.4L540.7 1092.8L545.1 1088.4L549.5 1084.6L554.6 1089L560.2 1092.8L565.3 1093.2L570.3 1092.8L574.1 1091.5L579.2 1092.2L584.2 1090.3L589.2 1091.5L594.3 1090.9L599.3 1093.2L600 1094.1L608.9 1093.7L613.9 1094.9L618.3 1096.6L623.4 1101.6L628.4 1097.2L633.5 1096.2L638.5 1097.8L643.5 1105.4L648 1107.9L652.4 1101.6L657.4 1100.7L662.4 1095.9L667.5 1100.4L672.5 1102.9L676.9 1105.4L682 1101.6L687.7 1099.7L692.1 1108.6L697.1 1116.7L701.5 1123.7L705.9 1115.5L711 1120.5L716.7 1124.3L721.1 1117.4L725.5 1103.5L731.2 1102.9L736.2 1107.9L741.2 1114.9" stroke="#999999"/>
<path d="M185.7 1087.1L191.4 1089.6L196.4 1093.4L202.1 1090.9L207.8 1099.1L210.3 1094.7L212.8 1085.9L221.6 1082.1L227.3 1075.8L231.7 1078.3L238 1070.7L243.1 1065.7L250.6 1063.2L256.9 1061.3L265.8 1060.6L272.1 1060L282.2 1055L292.2 1050.6L304.9 1049.3L314.9 1048.7L325 1047.4L330.7 1048.7L335.1 1054.3L338.9 1050.6L344.6 1053.7L349.6 1050.6L354 1060.6L359.1 1049.9L369.2 1053.1L374.2 1049.3L379.2 1051.2L384.3 1050.6L389.3 1055.6L395.1 1055L401.4 1053.1L403.9 1052.4L408.3 1055L413.4 1052.4L418.4 1055.6L422.8 1053.7L427.2 1053.1L432.7 1055L438 1053.7L444.3 1055L452.4 1056.2L456.9 1063.8L461.9 1064.4L466.9 1058.1L473.3 1061.3L479.6 1063.8L485.9 1065.1L491.5 1072L495.9 1069.5L501 1070.7L506 1078.9L511.1 1082.1L516.1 1078.9L521.2 1079.6L525.6 1072.6L530.6 1070.1L535.7 1073.3L540.7 1072L545.1 1075.8L549.5 1070.1L554.6 1074.5L559.6 1070.7L564 1066.3L569.1 1073.9L574.1 1073.3L579.2 1068.8L584.2 1074.5L589.2 1072.6L594.3 1068.2L599.3 1067.6L603.8 1064.4L608.9 1068.2L613.9 1069.5L618.3 1065.7L623.4 1068.8L628.4 1070.7L632.8 1071.4L637.9 1066.3L642.9 1069.5L647.3 1065.1L652.4 1068.2L657.4 1067.6L663.1 1066.9L667.5 1061.3L672.5 1065.7L676.9 1072L682 1072L687 1073.3L692.1 1072.6L696.5 1072L701.5 1070.1L706.6 1070.7L711.6 1072L716 1067.6L721.1 1070.1L726.1 1068.8L731.2 1070.7L736.2 1070.7L741.2 1070.1" stroke="#999999"/>
<path d="M185.7 1090.9L192.7 1088.4L200.2 1085.2L206.5 1089L217.2 1085.2L221.6 1087.8L241.8 1088.4L246.9 1086.9L251.9 1087.4L256.9 1086.2L268.3 1089L275.9 1085.2L283.4 1083.3L289.7 1081.4L296 1080.8L304.9 1084.6L314.9 1086.5L325 1084L330.1 1083.3L338.9 1085.9L345.2 1087.8L354 1085.6L362.9 1087.1L371.7 1084.6L379.2 1082.7L384.3 1084.6L389.3 1084L392.6 1085.9L401.4 1084.6L407.7 1081.4L412.7 1080.6L417.8 1081.4L422.8 1084.6L427.9 1084L438 1084L444.3 1084.6L450.6 1087.1L456.9 1089L461.9 1088.4L466.9 1085.9L472 1084L479.6 1082.7L485.9 1082.1L492.2 1083.3L499.7 1082.7L504.8 1085.9L511.1 1087.1L516.1 1086.5L521.2 1083.3L525.6 1078.9L531.2 1077L536.3 1077.7L540.1 1079.6L545.1 1078.3L553.9 1077L560.2 1074.8L564 1074.5L570.3 1076L577.9 1077L584.2 1077L589.2 1075.8L594.3 1073.3L599.3 1072.2L601.3 1072L608.9 1071.7L613.9 1072.6L618.3 1072.2L623.4 1073.5L628.4 1074.3L636.6 1073.5L642.9 1072L648 1071.7L657.4 1072.2L662.4 1069.2L666.9 1068.5L671.9 1070.7L676.9 1073.5L682 1075.5L692.1 1075.8L701.5 1074.3L706.6 1073.9L711.6 1072L716.7 1072.6L726.1 1073.3L731.2 1073.5L736.2 1073.9L741.2 1071.4" stroke="#000000"/>
<path d="M185.7 1092.2L190.8 1101L196.4 1102.9L200.8 1095.9L203.4 1097.2L211.6 1092.2L225.4 1090.9L241.8 1092.2L246.9 1089.6L251.9 1090.3L256.9 1089.6L262 1091.5L269.6 1091.2L279.6 1088.4L291 1085.2L297.3 1085.2L306.1 1088.4L314.9 1089.6L321.2 1088.1L325.7 1085.2L332.6 1092.2L340.2 1094.1L344.6 1089L349 1092.8L361.6 1089.6L367.9 1089.6L374.2 1092.8L379.2 1087.1L389.3 1085.9L392.6 1090.9L401.4 1087.1L407.7 1085.2L412.7 1084.6L417.8 1085.9L422.8 1085.9L432.9 1087.8L444.3 1087.8L450.6 1088.4L456.9 1092.2L461.9 1093.2L466.9 1089L472 1086.5L477 1087.1L485.9 1084.6L490.9 1087.8L495.9 1088.4L501 1090.9L506 1089.6L511.1 1089.6L516.1 1092.2L520.5 1096.6L525.6 1094.7L530.6 1094.1L535 1099.7L540.1 1103.5L544.5 1094.7L549.5 1089.6L554.6 1094.1L559.6 1097.2L565.3 1096.6L570.3 1096.6L574.1 1095.3L579.2 1096.2L584.2 1094.1L589.2 1094.7L594.3 1093.4L599.3 1097.2L600 1097.2L608.9 1097.2L613.9 1097.8L618.3 1099.7L623.4 1104.8L628.4 1099.1L633.5 1097L638.5 1099.7L643.5 1107.9L648 1109.8L652.4 1103.3L657.4 1102.9L662.4 1099.1L667.5 1101.6L672.5 1104.1L676.9 1106.7L682 1102.2L687.7 1100L692.1 1111.1L697.1 1118.6L701.5 1124.9L705.9 1116.1L711 1120.5L716.7 1124.9L721.1 1118L725.5 1103.5L731.2 1102.2L736.2 1107.9L741.2 1114.9" stroke="#000000"/>
</g>
<g>
<line x1="1025.8" y1="797.9" x2="1025.8" y2="1214.7" stroke="#333333" stroke-width="4.2"/>
<line x1="1009" y1="1197.9" x2="1622.2" y2="1197.9" stroke="#333333" stroke-width="4.2"/>
<line x1="1009" y1="800" x2="1025.8" y2="800" stroke="#333333" stroke-width="4.2"/>
<text transform="translate(1003.3 812.6) scale(1 1.075)" font-size="32.7" text-anchor="end" class="tk">150</text>
<line x1="1009" y1="856.84" x2="1025.8" y2="856.84" stroke="#333333" stroke-width="4.2"/>
<text transform="translate(1003.3 869.44) scale(1 1.075)" font-size="32.7" text-anchor="end" class="tk">120</text>
<line x1="1009" y1="913.69" x2="1025.8" y2="913.69" stroke="#333333" stroke-width="4.2"/>
<text transform="translate(1003.3 926.29) scale(1 1.075)" font-size="32.7" text-anchor="end" class="tk">90</text>
<line x1="1009" y1="970.53" x2="1025.8" y2="970.53" stroke="#333333" stroke-width="4.2"/>
<text transform="translate(1003.3 983.13) scale(1 1.075)" font-size="32.7" text-anchor="end" class="tk">60</text>
<line x1="1009" y1="1027.37" x2="1025.8" y2="1027.37" stroke="#333333" stroke-width="4.2"/>
<text transform="translate(1003.3 1039.97) scale(1 1.075)" font-size="32.7" text-anchor="end" class="tk">30</text>
<line x1="1009" y1="1084.21" x2="1025.8" y2="1084.21" stroke="#333333" stroke-width="4.2"/>
<text transform="translate(1003.3 1096.81) scale(1 1.075)" font-size="32.7" text-anchor="end" class="tk">0</text>
<line x1="1009" y1="1141.06" x2="1025.8" y2="1141.06" stroke="#333333" stroke-width="4.2"/>
<text transform="translate(1003.3 1153.66) scale(1 1.075)" font-size="32.7" text-anchor="end" class="tk">-30</text>
<text transform="translate(1003.3 1210.5) scale(1 1.075)" font-size="32.7" text-anchor="end" class="tk">-60</text>
<text transform="translate(1023.9 1252.2) scale(1 1.075)" font-size="32.7" text-anchor="middle" class="tk">0</text>
<line x1="1100.09" y1="1197.9" x2="1100.09" y2="1214.7" stroke="#333333" stroke-width="4.2"/>
<text transform="translate(1099.79 1252.2) scale(1 1.075)" font-size="32.7" text-anchor="middle" class="tk">10</text>
<line x1="1174.38" y1="1197.9" x2="1174.38" y2="1214.7" stroke="#333333" stroke-width="4.2"/>
<text transform="translate(1174.08 1252.2) scale(1 1.075)" font-size="32.7" text-anchor="middle" class="tk">20</text>
<line x1="1248.66" y1="1197.9" x2="1248.66" y2="1214.7" stroke="#333333" stroke-width="4.2"/>
<text transform="translate(1248.36 1252.2) scale(1 1.075)" font-size="32.7" text-anchor="middle" class="tk">30</text>
<line x1="1322.95" y1="1197.9" x2="1322.95" y2="1214.7" stroke="#333333" stroke-width="4.2"/>
<text transform="translate(1322.65 1252.2) scale(1 1.075)" font-size="32.7" text-anchor="middle" class="tk">40</text>
<line x1="1397.24" y1="1197.9" x2="1397.24" y2="1214.7" stroke="#333333" stroke-width="4.2"/>
<text transform="translate(1396.94 1252.2) scale(1 1.075)" font-size="32.7" text-anchor="middle" class="tk">50</text>
<line x1="1471.53" y1="1197.9" x2="1471.53" y2="1214.7" stroke="#333333" stroke-width="4.2"/>
<text transform="translate(1471.23 1252.2) scale(1 1.075)" font-size="32.7" text-anchor="middle" class="tk">60</text>
<line x1="1545.81" y1="1197.9" x2="1545.81" y2="1214.7" stroke="#333333" stroke-width="4.2"/>
<text transform="translate(1545.51 1252.2) scale(1 1.075)" font-size="32.7" text-anchor="middle" class="tk">70</text>
<line x1="1620.1" y1="1197.9" x2="1620.1" y2="1214.7" stroke="#333333" stroke-width="4.2"/>
<text transform="translate(1619.8 1252.2) scale(1 1.075)" font-size="32.7" text-anchor="middle" class="tk">80</text>
<text transform="translate(1326.5 736.1) scale(1 1.05)" font-size="46.6" text-anchor="middle">CO</text>
<text transform="translate(888 736.3) scale(1 1.02)" font-size="46.6">d.</text>
<text transform="translate(1324.05 1303.6) scale(1 1.02)" font-size="40.3" text-anchor="middle">Time [h]</text>
</g>
<clipPath id="clipd"><rect x="1024" y="780" width="604.3" height="415.9"/></clipPath>
<g clip-path="url(#clipd)" fill="none" stroke-width="4.6" stroke-linejoin="round">
<path d="M1023.3 941.2L1031.4 965.8L1035.8 987.2L1038.3 1010.4L1042.1 1040.7L1047.1 1081L1048.4 1084.2L1061.6 1084.2L1066.7 1075.4L1072.4 1084.2L1105.8 1084.2L1108.3 1078.5L1110.8 1058.3L1112.7 1035.6L1114.6 1010.4L1117.1 999.9L1120.9 978.4L1125.3 950.1L1129.7 943.8L1134.8 938.7L1139.8 929.3L1144.9 916.6L1150.5 917.3L1154.9 920.2L1160 923L1164.4 903.4L1169.8 897.7L1175.7 901.5L1180.2 916.6L1184.6 931.1L1189 937.4L1194 940.6L1198.4 933.7L1203.5 924.8L1208.5 917.9L1213.6 907.8L1218.6 908.5L1223.7 907.6L1228.7 911L1228.8 911L1233.8 906.3L1238.9 908.5L1243.3 902.1L1248.3 898L1253.4 898.4L1258.4 900.3L1262.8 898.4L1267.9 899.2L1272.9 901.3L1278 900L1283 900.5L1287.4 899.6L1292.4 896.7L1296.9 905.3L1301.9 903L1306.9 898.4L1312 893.3L1316.4 890.2L1321.4 885.4L1326.5 885.8L1331.5 887.9L1336.6 889.9L1341.6 888.3L1346.7 892.9L1351.7 898.4L1356.7 903.8L1361.2 905L1365.6 916L1370 911.6L1375 908.5L1380.1 905.6L1385.1 910.3L1390.2 910.1L1395.2 912.9L1399.6 911.4L1404.7 916L1409.7 912.9L1414.7 910.1L1419.8 907.2L1424.2 906.8L1429.2 900L1434.3 903L1439.3 905.3L1440 904.7L1444.5 903L1448.9 900.3L1453.9 901.3L1459 900.9L1463.4 900L1468.4 898.7L1473.5 902.1L1478.5 900.9L1483.5 904.3L1488 899.2L1493 897.5L1497.7 893.7L1503.1 897.7L1508.1 911.6L1510.6 929.3L1511.9 945.6L1516.9 957L1522.6 950.7L1525.8 935.6L1527.7 929L1532.1 922.3L1537.1 920.4L1541.5 934.3L1545.9 943.8L1551 925.5L1556 915.6L1562.3 917.7L1566.1 942.5L1570.5 940.6L1576.2 935.6L1580 921.1L1586.3 923" stroke="#ff0000"/>
<path d="M1023.3 1062.1L1027.6 1060.9L1031.4 1065.9L1032.7 1077.2L1033.9 1101.5L1035.8 1130.5L1040.2 1150.7L1046.3 1183.5L1048.5 1198.6M1055.8 1198.6L1057.2 1173.4L1062.3 1163.9L1066.7 1116.6L1072.4 1149.4L1076.8 1105.3L1081.8 1111.6L1090.6 1106.6L1095.7 1104L1100.7 1095.2L1105.8 1104.7L1107.7 1097.1L1109.3 1086L1111.4 1077.2L1114 1060.9L1117.1 1041.9L1119.6 1020.5L1122.2 1005.4L1125.3 986L1130.4 960.1L1134.8 950.7L1140.4 938.1L1146.1 935.3L1151.2 931.8L1155.6 927.4L1160 918.5L1165 916.6L1169.8 911.4L1174.5 916.6L1178.9 920.4L1183.9 936.8L1189 935.6L1194 944.4L1199.1 965.2L1204.1 967.1L1209.2 951.9L1214.2 923L1218.6 918.5L1223.7 915.4L1228.7 919.4L1229.4 919.8L1234.5 922.3L1238.2 932.4L1243.3 929.3L1248.3 937.1L1253.4 933L1258.4 934.3L1262.8 925.5L1267.9 925.5L1272.9 930.3L1278 932L1282.4 940.9L1287.4 936.2L1291.8 933.7L1296.9 929L1302.2 934.9L1306.9 930.5L1312 921.7L1316.4 909.1L1321.4 905.3L1326.5 903.4L1331.5 901.3L1336.6 902.1L1341.6 904.3L1346 909.3L1351.1 907.6L1356.1 911.6L1361.2 914.8L1365.6 918.5L1370 913.5L1375 912.2L1380.1 912.6L1385.1 912.6L1390.2 912.2L1395.2 913.5L1400.2 915.4L1404.7 916.9L1409.7 914.1L1414.7 917.3L1419.2 912.2L1424.2 914.4L1429.9 908.8L1434.3 908.5L1439.3 908.1L1440 909.1L1444.5 910.1L1448.9 905L1453.9 903L1459 903L1463.4 911.4L1468.4 908.5L1473.5 910.1L1478.5 902.5L1483.5 905.9L1492.4 926.1L1496.8 925.5L1503.1 921.9L1507.5 928.6L1511.9 925.5L1516.9 926.7L1522 925.5L1527.7 929.3L1530.8 933.7L1535.9 934.6L1540.9 938.1L1545.9 943.8L1551 933L1556 929L1561.1 931.1L1566.1 929.3L1570.5 926.5L1574.9 935.6L1580 936.2L1585 922.3" stroke="#ff0000"/>
<path d="M1023.3 1085.1L1031.4 1087L1040.2 1086.1L1052.8 1085.8L1065.4 1084.9L1073 1086.1L1078 1092.1L1083.1 1093.3L1090.6 1095.8L1100.7 1097.1L1110.8 1097.1L1119.6 1094.6L1125.9 1090.2L1132.2 1087.9L1141.1 1087L1153.7 1087.4L1166.3 1086.4L1178.9 1087L1191.5 1087.7L1204.1 1088.7L1216.7 1087L1229.3 1087L1237.6 1087L1262.8 1086.1L1288 1086.6L1313.3 1086.4L1325.9 1086.4L1338.5 1087L1351.1 1087.7L1363.7 1089.2L1376.3 1090.2L1381.3 1091.4L1388.9 1094.6L1393.9 1097.1L1399.6 1100L1405.3 1104L1410.3 1106.6L1415.4 1109.7L1419.8 1109.3L1424.2 1110.3L1429.2 1111.6L1434.3 1113.5L1439.3 1115.1L1439.4 1116L1443.8 1119.4L1448.9 1115.1L1453.9 1114.6L1459 1113.6L1464 1119.8L1468.4 1118.9L1473.5 1120.4L1477.9 1116.1L1482.9 1120.4L1488 1118.4L1493 1119.2L1497.7 1115.6L1503.1 1119.4L1508.1 1128.2L1510.6 1141.2L1513.2 1149.4L1516.9 1163.3L1522 1172.1L1529.6 1174L1534.6 1180.9L1537.9 1198.6M1545.4 1198.6L1551.6 1186L1554.1 1198.6M1557.5 1198.6L1559.8 1174.6L1566.1 1177.2L1568.4 1198.6M1575.2 1198.6L1577.5 1180.9L1581.2 1177.2L1586.3 1183.5" stroke="#999999"/>
<path d="M1023.3 1085.8L1033.9 1090.2L1040.2 1091.4L1047.8 1090.8L1052.8 1092.4L1065.4 1090.2L1070.5 1091.4L1078 1095.8L1085.6 1098.4L1095.7 1099.6L1103.3 1099L1110.8 1100.3L1119.6 1097.1L1128.5 1097.1L1133.5 1092.7L1141.1 1090.2L1153.7 1089.2L1166.3 1087.9L1178.9 1088.7L1191.5 1088.9L1204.1 1089.9L1216.7 1088.3L1229.3 1088.7L1235.1 1090.2L1247.7 1090.2L1257.8 1089.5L1267.9 1091.4L1280.5 1092.7L1293.1 1093.3L1301.9 1094L1306.9 1100.3L1312 1099.6L1316.4 1094L1322.1 1094L1332.2 1097.1L1341 1099.6L1346 1101.5L1351.1 1100.3L1356.1 1105.3L1359.9 1114.1L1364.9 1117.3L1370 1122.3L1375 1129.9L1379.4 1134.3L1384.5 1125.5L1391.4 1128.6L1396.5 1136.8L1401.5 1138.7L1405.3 1137.4L1409.7 1134.9L1414.1 1145.6L1419.2 1143.1L1424.2 1137.4L1429.2 1147.5L1434.3 1153.8L1439.3 1140.6L1439.4 1143.1L1443.8 1138.7L1448.9 1142.5L1453.9 1134.9L1458.7 1129.3L1463.4 1133L1468.4 1136.2L1473.5 1133L1478.5 1132.4L1482.9 1145.6L1488 1154.5L1493 1148.8L1497.7 1160.1L1502.4 1159.5L1506.9 1150.7L1510.6 1148.2L1515.7 1163.3L1520.7 1160.8L1526.4 1145.6L1531.4 1141.9L1537.1 1138.1L1541.5 1151.3L1546.6 1153.2L1551 1142.5L1556 1135.6L1562.3 1137.4L1566.1 1148.8L1570.5 1142.5L1575.6 1140.6L1580.6 1131.8L1586.3 1134.3" stroke="#999999"/>
<path d="M1023.3 1085.1L1031.4 1092.1L1036.4 1094.6L1047.8 1093.3L1052.8 1095.2L1065.4 1092.7L1071.7 1093.3L1078 1099.6L1085.6 1101.5L1090.6 1101.5L1100.7 1105.3L1107 1103.4L1113.3 1105.9L1115.9 1103.4L1120.9 1105.9L1125.9 1105.3L1132.2 1107.8L1139.8 1107.8L1145.5 1104.7L1151.2 1107.2L1156.2 1110.1L1160.6 1111.6L1165 1105.3L1170.1 1104.7L1175.1 1106.6L1181.4 1110.3L1187.7 1111.9L1194 1113.5L1199.1 1118.5L1203.5 1121.1L1209.2 1117.9L1214.2 1109.1L1219.2 1105.3L1223.7 1103.8L1229.3 1105.3L1233.8 1105.3L1238.2 1109.7L1243.3 1107.8L1248.3 1109.7L1257.8 1107.6L1262.8 1104.3L1267.9 1104.3L1275.4 1105.3L1282.4 1106.8L1287.4 1105.3L1291.8 1106.6L1296.9 1105.3L1301.9 1106.6L1306.9 1105.9L1312 1103.4L1317 1101.5L1325.9 1101.3L1332.2 1102.5L1339.7 1103.8L1346 1105.9L1351.1 1105.9L1356.1 1106.8L1364.9 1109.3L1370 1107.8L1378.8 1106.8L1385.1 1108.8L1388.9 1109.3L1395.2 1111L1399.6 1111.6L1404.7 1113.5L1409.7 1113.9L1414.7 1116.6L1419.8 1113.1L1424.2 1114.1L1429.2 1111L1434.3 1112.9L1439.3 1114.4L1439.4 1115.1L1443.8 1118.5L1448.9 1114.4L1453.9 1113.9L1459 1112.9L1464 1118.9L1468.4 1118.2L1473.5 1119.8L1477.9 1115.4L1482.9 1119.8L1488 1117.7L1493 1117.3L1497.7 1114.8L1503.1 1118.5L1508.1 1127.4L1510.6 1140.6L1513.2 1148.2L1516.9 1160.8L1522 1164.6L1527 1165.2L1532.1 1169.6L1536.5 1186.6L1541.5 1189.1L1546.6 1185.4L1551.6 1180.9L1556 1170.2L1561.1 1172.8L1566.7 1169.9L1570.9 1181.6L1575.6 1172.8L1580.6 1174L1586.3 1182.2" stroke="#000000"/>
<path d="M1023.3 1098.4L1031.4 1099.2L1036.4 1095.8L1047.8 1097.1L1052.8 1098.4L1065.4 1097.1L1070.5 1098.4L1078 1100.3L1080.6 1105.9L1085.6 1107.8L1091.9 1109.7L1101.4 1116L1107 1111.6L1112.1 1108.5L1115.9 1104L1122.2 1105.9L1128.5 1106.6L1134.8 1110.3L1141.1 1114.8L1146.1 1117.3L1151.2 1117.9L1160 1118.2L1165 1116.9L1170.1 1119.2L1175.1 1122.3L1179.5 1127.4L1184.6 1126.5L1189.6 1129.3L1194 1126.1L1199.1 1126.7L1204.1 1129.5L1209.2 1128L1214.2 1127L1219.2 1120.4L1224.3 1120.4L1229.3 1123L1233.8 1130.5L1238.9 1131.1L1247.7 1131.8L1253.4 1130.8L1258 1129.3L1262.8 1133.7L1267.9 1138.1L1272.9 1139.1L1278 1141.2L1282.4 1139.6L1286.8 1140L1291.8 1143.4L1297.5 1145.6L1301.9 1163.3L1306.9 1164.6L1312 1150.7L1316.4 1133L1321.4 1131.8L1325.9 1134.3L1331.5 1135.3L1335.9 1133.7L1341 1133L1346 1129.3L1351.1 1130.3L1356.1 1130.3L1360.9 1138.1L1365.6 1133L1370.6 1139.6L1375 1139.6L1380.7 1136.8L1385.7 1134.6L1390.2 1135.6L1395.2 1141.9L1401.5 1141.2L1405.3 1140.3L1414.1 1140.6L1419.8 1140L1424.2 1140.6L1429.2 1148.4L1434.3 1143.8L1439.3 1138.1L1439.4 1138.1L1443.8 1136.2L1448.9 1136.8L1453.9 1131.1L1458.7 1126.7L1463.4 1129L1468.4 1131.1L1473.5 1130.3L1477.9 1136.8L1482.9 1143.1L1488 1149.4L1493 1150.7L1497.7 1152.6L1502.4 1151.3L1506.9 1143.8L1510.6 1144.4L1515.7 1151.9L1520.7 1158.3L1523.3 1157L1526.4 1143.1L1531.4 1138.7L1537.1 1135.3L1541.5 1148.2L1546.6 1149.4L1551 1139.3L1556 1133L1562.3 1134.9L1566.1 1145.6L1570.5 1139.3L1575.6 1138.1L1580.6 1129.3L1586.3 1131.8" stroke="#000000"/>
</g>
<text transform="translate(36.1 1217.5) rotate(-90) scale(1 1.01)" font-size="40.3">Uptake/production rate</text>
<text transform="translate(86 1124) rotate(-90) scale(1 1.02)" font-size="40.3">[mmol L<tspan font-size="25" dy="-16">-1</tspan><tspan dy="16"> h</tspan><tspan font-size="25" dy="-16">-1</tspan><tspan dy="16">]</tspan></text>
<line x1="704" y1="1350.5" x2="742.3" y2="1350.5" stroke="#ff0000" stroke-width="4.4"/>
<text transform="translate(764.5 1362.2) scale(1 1.05)" font-size="34.8">CO</text>
<line x1="843.9" y1="1351" x2="882.5" y2="1351" stroke="#999999" stroke-width="4.4"/>
<text transform="translate(904 1362.2) scale(1 1.05)" font-size="34.8">H<tspan font-size="27" dy="7.4">2</tspan></text>
<line x1="977.5" y1="1351" x2="1015.4" y2="1351" stroke="#000000" stroke-width="4.4"/>
<text transform="translate(1036.5 1362.2) scale(1 1.05)" font-size="34.8">CO<tspan font-size="27" dy="7.4">2</tspan></text>
</svg>
</body>
</html>
